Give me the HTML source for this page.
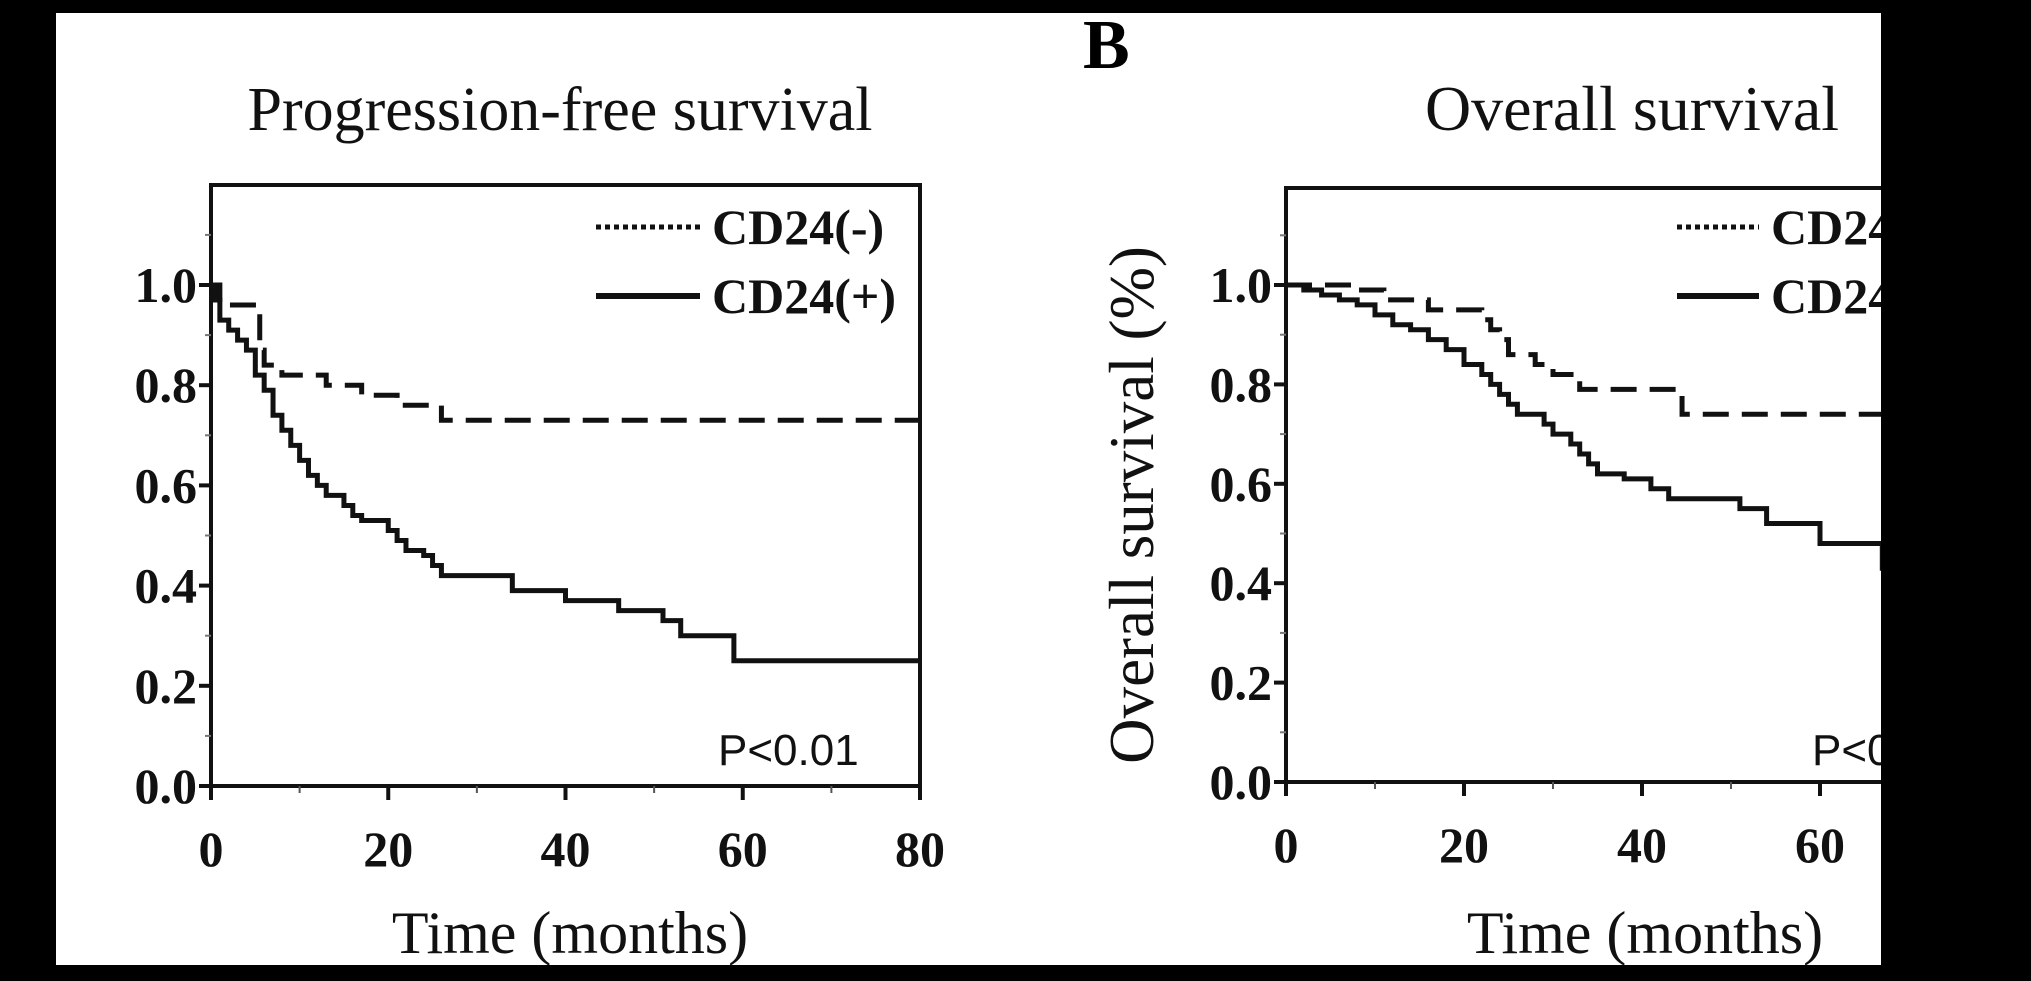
<!DOCTYPE html>
<html><head><meta charset="utf-8">
<style>
html,body{margin:0;padding:0;background:#000;}
svg{display:block;}
.serif{font-family:"Liberation Serif",serif;}
.tick{font-family:"Liberation Serif",serif;font-weight:bold;font-size:50px;fill:#111;}
</style></head>
<body>
<svg id="fig" width="2031" height="981" viewBox="0 0 2031 981">
<rect x="0" y="0" width="2031" height="981" fill="#000"/>
<rect x="56" y="13" width="1825" height="952" fill="#fff"/>
<g id="pA"></g>
<g id="pB"></g>
<text x="1083" y="68" class="serif" font-weight="bold" font-size="70">B</text>
<rect x="1881" y="0" width="150" height="981" fill="#000"/>
<rect x="0" y="965" width="2031" height="16" fill="#000"/>
</svg>
<script>
const xTicks=[0,20,40,60,80];
const yTicks=[0.0,0.2,0.4,0.6,0.8,1.0];
const yTickLabels=["0.0","0.2","0.4","0.6","0.8","1.0"];
// Panel A: progression-free survival
const pfsNegTimes=[0,1,5.5,6,8,13,17,21,26,80];
const pfsNegVals=[1.0,0.96,0.87,0.84,0.82,0.80,0.78,0.76,0.73,0.73];
const pfsPosTimes=[0,0.5,1,2,3,4,5,6,7,8,9,10,11,12,13,15,16,17,20,21,22,24,25,26,34,40,46,51,53,59,80];
const pfsPosVals=[1.0,0.97,0.93,0.91,0.89,0.87,0.82,0.79,0.74,0.71,0.68,0.65,0.62,0.60,0.58,0.56,0.54,0.53,0.51,0.49,0.47,0.46,0.44,0.42,0.39,0.37,0.35,0.33,0.30,0.25,0.25];
// Panel B: overall survival
const osNegTimes=[0,8,11,16,22,23,24,25,28,30,33,44.5,80];
const osNegVals=[1.0,0.99,0.97,0.95,0.93,0.91,0.89,0.86,0.84,0.82,0.79,0.74,0.74];
const osPosTimes=[0,2,4,6,8,10,12,14,16,18,20,22,23,24,25,26,29,30,32,33,34,35,38,41,43,51,54,60,67,80];
const osPosVals=[1.0,0.99,0.98,0.97,0.96,0.94,0.92,0.91,0.89,0.87,0.84,0.82,0.80,0.78,0.76,0.74,0.72,0.70,0.68,0.66,0.64,0.62,0.61,0.59,0.57,0.55,0.52,0.48,0.43,0.43];

const NS="http://www.w3.org/2000/svg";
function mk(parent,tag,attrs){const e=document.createElementNS(NS,tag);for(const k in attrs)e.setAttribute(k,attrs[k]);parent.appendChild(e);return e;}

function panel(g,cfg){
  const X=t=>cfg.x0+(cfg.x1-cfg.x0)*t/80;
  const Y=v=>cfg.y0-(cfg.y0-cfg.y1)*v;
  const title=mk(g,'text',{x:cfg.titleX,y:130,'text-anchor':'middle','font-size':cfg.titleSize,class:'serif',fill:'#111'});
  title.textContent=cfg.title;
  
  
  const frame=mk(g,'rect',{x:cfg.x0,y:cfg.top,width:cfg.x1-cfg.x0,height:cfg.y0-cfg.top,fill:'none',stroke:'#111','stroke-width':4});
  
  
  xTicks.forEach((t,i)=>{
    const tk=mk(g,'line',{x1:X(t),x2:X(t),y1:cfg.y0,y2:cfg.y0+14,stroke:'#111','stroke-width':4});
    
    
    const lb=mk(g,'text',{x:X(t),y:cfg.y0+80,'text-anchor':'middle',class:'tick'});
    lb.textContent=String(t);
    
    
    if(i<xTicks.length-1){
      const m=mk(g,'line',{x1:X(t+10),x2:X(t+10),y1:cfg.y0,y2:cfg.y0+7,stroke:'#555','stroke-width':2});
      
      
    }
  });
  yTicks.forEach((v,i)=>{
    const tk=mk(g,'line',{x1:cfg.x0-12,x2:cfg.x0,y1:Y(v),y2:Y(v),stroke:'#111','stroke-width':4});
    
    
    const lb=mk(g,'text',{x:cfg.x0-14,y:Y(v)+17,'text-anchor':'end',class:'tick'});
    lb.textContent=yTickLabels[i];
    
    
    const m=mk(g,'line',{x1:cfg.x0-6,x2:cfg.x0,y1:Y(v+0.1),y2:Y(v+0.1),stroke:'#777','stroke-width':2});
    
    
  });
  const xt=mk(g,'text',{x:cfg.xTitleX,y:953,'text-anchor':'middle','font-size':60,class:'serif',fill:'#111'});
  xt.textContent='Time (months)';
  
  
  function step(ts,vs,dash,name){
    let d='M'+X(ts[0])+','+Y(vs[0]);
    for(let i=1;i<ts.length;i++){d+=' H'+X(ts[i])+' V'+Y(vs[i]);}
    const p=mk(g,'path',{d:d,fill:'none',stroke:'#111','stroke-width':5,'stroke-dasharray':dash});
    
    
  }
  step(cfg.negT,cfg.negV,'26,13','curve-cd24-negative');
  step(cfg.posT,cfg.posV,'none','curve-cd24-positive');
  const l1=mk(g,'line',{x1:cfg.legX,x2:cfg.legX+cfg.legW,y1:227,y2:227,stroke:'#111','stroke-width':5,'stroke-dasharray':'5,4'});
  
  
  const t1=mk(g,'text',{x:cfg.legX+cfg.legW+12,y:244,'font-size':50,'font-weight':'bold',class:'serif',fill:'#111'});
  t1.textContent='CD24(-)';
  
  
  const l2=mk(g,'line',{x1:cfg.legX,x2:cfg.legX+cfg.legW,y1:296,y2:296,stroke:'#111','stroke-width':6});
  
  
  const t2=mk(g,'text',{x:cfg.legX+cfg.legW+12,y:313,'font-size':50,'font-weight':'bold',class:'serif',fill:'#111'});
  t2.textContent='CD24(+)';
  
  
  const pv=mk(g,'text',{x:cfg.pX,y:765,'font-size':44,'font-family':'"Liberation Sans",sans-serif',fill:'#111'});
  pv.textContent='P<0.01';
  
  
}
panel(document.getElementById('pA'),{x0:211,x1:920,y0:786,y1:285,top:185,title:'Progression-free survival',titleSize:62,titleX:560,xTitleX:570,legX:596,legW:104,pX:718,negT:pfsNegTimes,negV:pfsNegVals,posT:pfsPosTimes,posV:pfsPosVals});
panel(document.getElementById('pB'),{x0:1286,x1:1998,y0:782,y1:285,top:188,title:'Overall survival',titleSize:64,titleX:1632,xTitleX:1645,legX:1677,legW:82,pX:1812,negT:osNegTimes,negV:osNegVals,posT:osPosTimes,posV:osPosVals});
const yt=document.createElementNS(NS,'text');
yt.setAttribute('x',0);yt.setAttribute('y',0);
yt.setAttribute('transform','translate(1153,505) rotate(-90)');
yt.setAttribute('text-anchor','middle');yt.setAttribute('font-size','63');
yt.setAttribute('class','serif');yt.setAttribute('fill','#111');
yt.textContent='Overall survival (%)';


document.getElementById('pB').appendChild(yt);
</script>
</body></html>
